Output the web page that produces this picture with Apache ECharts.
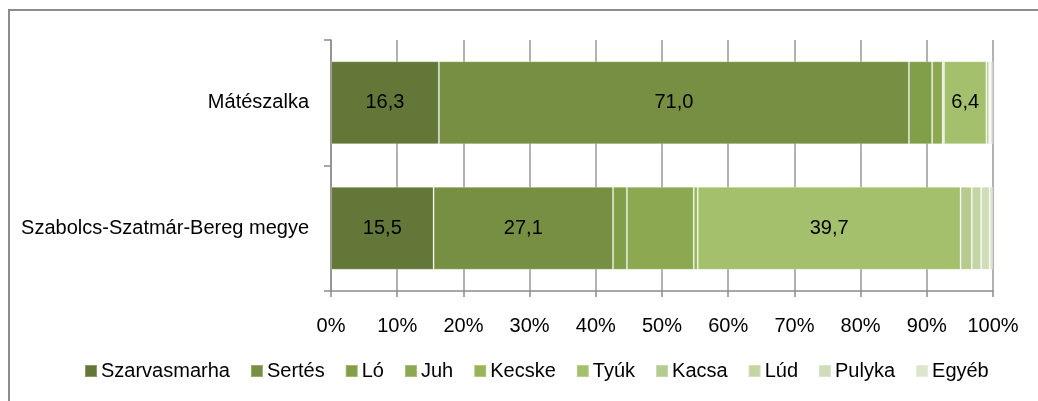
<!DOCTYPE html>
<html>
<head>
<meta charset="utf-8">
<script src="https://cdn.jsdelivr.net/npm/echarts@6/dist/echarts.min.js"></script>
<style>
  html, body { margin: 0; padding: 0; background: #fff; }
  #chart { width: 1038px; height: 401px; }
</style>
</head>
<body>
<div id="chart"></div>
<script>
// teruletek (felulrol lefele)
const categories = ['Mátészalka', 'Szabolcs-Szatmár-Bereg megye'];
const speciesNames = ['Szarvasmarha', 'Sertés', 'Ló', 'Juh', 'Kecske', 'Tyúk', 'Kacsa', 'Lúd', 'Pulyka', 'Egyéb'];

// megoszlas, % (Mátészalka, megye)
const szarvasmarha = [16.3, 15.5];
const sertes = [71.0, 27.1];
const lo = [3.5, 2.1];
const juh = [1.6, 10.1];
const kecske = [0.2, 0.6];
const tyuk = [6.4, 39.7];
const kacsa = [0.4, 1.7];
const lud = [0.2, 1.4];
const pulyka = [0.3, 1.3];
const egyeb = [0.1, 0.5];

const seriesValues = [szarvasmarha, sertes, lo, juh, kecske, tyuk, kacsa, lud, pulyka, egyeb];
const colors = ['#637838', '#778f42', '#819e49', '#8ca851', '#97b45b', '#a4c06d', '#b6cb8f', '#c4d5a5', '#d0ddba', '#dde6cc'];
// csak ezeknel van felirat
const labelled = ['Szarvasmarha', 'Sertés', 'Tyúk'];

const font = "'Liberation Sans', Arial, sans-serif";
const fontSize = 20;

let myChart = echarts.init(document.getElementById('chart'));

let series = speciesNames.map(function(name, i) {
   return {
      name: name,
      type: 'bar',
      stack: 'all',
      barWidth: 83,
      data: seriesValues[i],
      itemStyle: {
         color: colors[i],
         borderColor: 'rgba(255,255,255,0.25)',
         borderWidth: 1
      },
      label: {
         show: labelled.indexOf(name) >= 0,
         position: 'inside',
         color: '#000',
         fontFamily: font,
         fontSize: fontSize,
         formatter: function(p) {
            return p.value.toFixed(1).replace('.', ',');
         }
      },
      emphasis: { disabled: true }
   };
});

let option = {
   animation: false,
   color: colors,
   textStyle: { fontFamily: font },
   graphic: [{
      type: 'rect',
      shape: { x: 9, y: 10, width: 1100, height: 500 },
      style: { fill: 'none', stroke: '#8c8c8c', lineWidth: 2 },
      silent: true
   }],
   grid: { left: 331, right: 45, top: 40, bottom: 110, containLabel: false, outerBoundsMode: 'none' },
   legend: {
      left: 84,
      top: 361,
      padding: 0,
      itemWidth: 12,
      itemHeight: 12,
      itemGap: 20,
      icon: 'rect',
      textStyle: { color: '#000', fontSize: fontSize, fontFamily: font, padding: [0, 0, 0, -1] },
      data: speciesNames
   },
   xAxis: {
      type: 'value',
      min: 0,
      max: 100,
      interval: 10,
      axisLine: { show: true, lineStyle: { color: '#8c8c8c', width: 1.5 } },
      axisTick: { show: true, length: 6, lineStyle: { color: '#8c8c8c', width: 1.5 } },
      splitLine: { show: true, lineStyle: { color: '#999', width: 1.5 } },
      axisLabel: { color: '#000', fontSize: fontSize, fontFamily: font, margin: 25, formatter: '{value}%' }
   },
   yAxis: {
      type: 'category',
      inverse: true,
      data: categories,
      axisLine: { show: true, lineStyle: { color: '#8c8c8c', width: 1.5 } },
      axisTick: { show: true, length: 7, lineStyle: { color: '#8c8c8c', width: 1.5 } },
      axisLabel: { color: '#000', fontSize: fontSize, fontFamily: font, margin: 22 }
   },
   series: series
};

myChart.setOption(option);
</script>
</body>
</html>
